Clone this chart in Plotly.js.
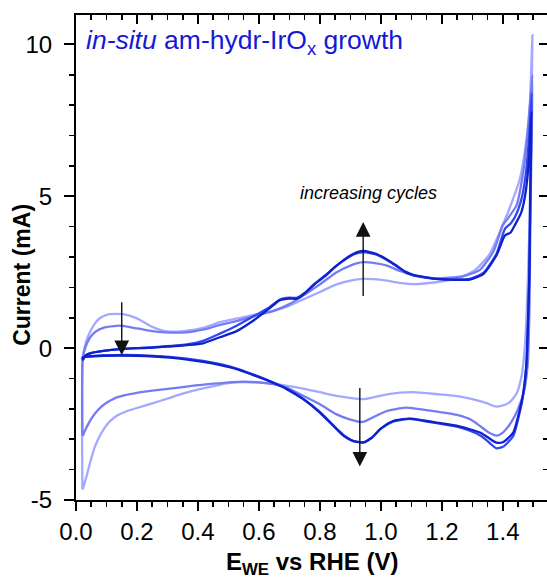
<!DOCTYPE html>
<html>
<head>
<meta charset="utf-8">
<script src="https://cdn.plot.ly/plotly-3.0.1.min.js"></script>
<style>
  html, body { margin: 0; padding: 0; background: #ffffff; }
  #cv { width: 547px; height: 577px; }
</style>
</head>
<body>
<div id="cv"></div>
<script>
// Cyclic voltammograms recorded during in-situ growth of amorphous hydrous IrOx.
// Each cycle: cathodic end -> anodic sweep up to 1.5 V -> cathodic sweep back.
// Potential in V vs RHE, current in mA.

// cycle 1 (earliest)
const cycle1E = [0.021, 0.022, 0.03, 0.04, 0.051, 0.065, 0.08, 0.11, 0.155, 0.2, 0.25, 0.3, 0.36, 0.42, 0.47, 0.53, 0.58, 0.64, 0.7, 0.745, 0.8, 0.855, 0.9, 0.942, 0.98, 1.02, 1.06, 1.11, 1.18, 1.26, 1.31, 1.357, 1.39, 1.42, 1.456, 1.475, 1.489, 1.497,
  1.494, 1.49, 1.486, 1.48, 1.472, 1.462, 1.445, 1.42, 1.395, 1.375, 1.35, 1.30, 1.25, 1.19, 1.10, 1.02, 0.94, 0.86, 0.80, 0.745, 0.64, 0.55, 0.50, 0.42, 0.35, 0.30, 0.25, 0.2, 0.17, 0.135, 0.11, 0.09, 0.075, 0.06, 0.046, 0.035, 0.022];
const cycle1I = [-4.65, -0.36, 0.1, 0.4, 0.63, 0.85, 1.0, 1.12, 1.12, 0.98, 0.7, 0.55, 0.57, 0.68, 0.85, 0.98, 1.09, 1.2, 1.4, 1.6, 1.85, 2.1, 2.22, 2.28, 2.27, 2.22, 2.15, 2.11, 2.17, 2.33, 2.58, 3.1, 3.82, 4.55, 5.58, 6.68, 8.11, 10.31,
  8.0, 5.5, 3.5, 1.6, 0.0, -0.9, -1.5, -1.8, -1.9, -1.92, -1.82, -1.68, -1.58, -1.52, -1.45, -1.52, -1.68, -1.58, -1.45, -1.33, -1.17, -1.12, -1.15, -1.32, -1.5, -1.66, -1.82, -1.97, -2.06, -2.22, -2.42, -2.68, -2.95, -3.3, -3.78, -4.2, -4.65];

// cycle 2
const cycle2E = [0.021, 0.022, 0.03, 0.046, 0.065, 0.09, 0.144, 0.2, 0.25, 0.29, 0.36, 0.42, 0.47, 0.53, 0.58, 0.64, 0.7, 0.745, 0.8, 0.855, 0.9, 0.942, 0.98, 1.02, 1.06, 1.1, 1.18, 1.27, 1.325, 1.37, 1.40, 1.415, 1.445, 1.467, 1.483, 1.497,
  1.494, 1.49, 1.488, 1.482, 1.47, 1.45, 1.43, 1.40, 1.38, 1.35, 1.30, 1.25, 1.19, 1.12, 1.08, 1.02, 0.98, 0.94, 0.9, 0.855, 0.8, 0.745, 0.69, 0.636, 0.55, 0.45, 0.35, 0.25, 0.2, 0.16, 0.125, 0.1, 0.08, 0.065, 0.05, 0.04, 0.03, 0.022];
const cycle2I = [-2.89, -0.36, 0.0, 0.35, 0.55, 0.67, 0.74, 0.65, 0.56, 0.52, 0.52, 0.62, 0.76, 0.9, 1.05, 1.2, 1.45, 1.73, 2.1, 2.5, 2.72, 2.83, 2.8, 2.72, 2.55, 2.42, 2.3, 2.37, 2.58, 3.2, 4.05, 4.25, 4.7, 5.8, 7.23, 8.99,
  6.5, 4.0, 1.6, -0.5, -1.4, -2.0, -2.4, -2.78, -2.88, -2.75, -2.38, -2.2, -2.1, -2.0, -1.96, -2.07, -2.25, -2.43, -2.35, -2.18, -1.85, -1.57, -1.3, -1.17, -1.1, -1.17, -1.28, -1.4, -1.47, -1.55, -1.66, -1.8, -1.96, -2.12, -2.33, -2.5, -2.7, -2.89];

// cycle 3
const cycle3E = [0.022, 0.023, 0.03, 0.046, 0.09, 0.144, 0.253, 0.363, 0.417, 0.472, 0.527, 0.581, 0.636, 0.669, 0.70, 0.724, 0.75, 0.778, 0.82, 0.855, 0.909, 0.942, 0.986, 1.02, 1.051, 1.08, 1.106, 1.183, 1.292, 1.336, 1.379, 1.407, 1.425, 1.439, 1.461, 1.475, 1.486, 1.495,
  1.491, 1.488, 1.484, 1.478, 1.466, 1.457, 1.434, 1.40, 1.379, 1.36, 1.33, 1.292, 1.248, 1.183, 1.14, 1.095, 1.04, 1.0, 0.97, 0.942, 0.909, 0.88, 0.855, 0.8, 0.745, 0.691, 0.636, 0.58, 0.527, 0.47, 0.417, 0.308, 0.2, 0.09, 0.04, 0.022];
const cycle3I = [-0.3, -0.38, -0.25, -0.17, -0.09, -0.03, 0.03, 0.12, 0.24, 0.48, 0.74, 1.04, 1.36, 1.6, 1.66, 1.66, 1.82, 2.08, 2.42, 2.72, 3.08, 3.16, 3.08, 2.9, 2.7, 2.5, 2.4, 2.28, 2.28, 2.48, 3.1, 3.93, 4.1, 4.3, 4.9, 5.7, 6.9, 8.4,
  5.5, 2.8, 1.2, -0.5, -1.6, -2.05, -2.9, -3.25, -3.3, -3.15, -2.9, -2.72, -2.58, -2.47, -2.4, -2.33, -2.42, -2.65, -2.95, -3.1, -3.05, -2.88, -2.65, -2.1, -1.66, -1.32, -1.08, -0.86, -0.67, -0.52, -0.42, -0.29, -0.23, -0.24, -0.27, -0.3];

// cycle 4 (latest)
const cycle4E = [0.022, 0.023, 0.03, 0.046, 0.09, 0.144, 0.253, 0.363, 0.417, 0.472, 0.527, 0.581, 0.636, 0.669, 0.70, 0.724, 0.75, 0.778, 0.82, 0.855, 0.909, 0.942, 0.986, 1.02, 1.051, 1.08, 1.106, 1.183, 1.292, 1.336, 1.379, 1.407, 1.425, 1.439, 1.461, 1.475, 1.486, 1.494,
  1.49, 1.487, 1.483, 1.477, 1.465, 1.456, 1.434, 1.40, 1.379, 1.36, 1.33, 1.292, 1.248, 1.183, 1.14, 1.095, 1.04, 1.0, 0.97, 0.942, 0.909, 0.88, 0.855, 0.8, 0.745, 0.691, 0.636, 0.58, 0.527, 0.47, 0.417, 0.308, 0.2, 0.09, 0.04, 0.022];
const cycle4I = [-0.32, -0.38, -0.25, -0.17, -0.09, -0.03, 0.02, 0.1, 0.16, 0.36, 0.56, 0.9, 1.32, 1.58, 1.63, 1.63, 1.8, 2.06, 2.4, 2.72, 3.1, 3.2, 3.1, 2.92, 2.72, 2.52, 2.41, 2.28, 2.26, 2.44, 3.05, 3.71, 3.8, 4.04, 4.48, 5.14, 6.24, 7.78,
  5.0, 2.5, 1.0, -0.58, -1.6, -2.01, -2.78, -3.1, -3.11, -3.0, -2.8, -2.67, -2.55, -2.45, -2.38, -2.32, -2.4, -2.65, -2.95, -3.11, -3.06, -2.9, -2.67, -2.12, -1.68, -1.35, -1.1, -0.88, -0.69, -0.55, -0.45, -0.31, -0.25, -0.25, -0.28, -0.32];

const cycleColors = ['#a2a9ff', '#757cf2', '#3347f0', '#0d21cc'];

// axis tick labels
const xTickVals = [0.0, 0.2, 0.4, 0.6, 0.8, 1.0, 1.2, 1.4];
const xTickText = ['0.0', '0.2', '0.4', '0.6', '0.8', '1.0', '1.2', '1.4'];
const yTickVals = [-5, 0, 5, 10];
const yTickText = ['-5', '0', '5', '10'];

const FONT = 'Liberation Sans, Arial, Helvetica, sans-serif';
const xRange = [0, 1.545];
const yRange = [-5, 10.97];

const cycles = [[cycle1E, cycle1I], [cycle2E, cycle2I], [cycle3E, cycle3I], [cycle4E, cycle4I]];
const traces = cycles.map(([E, I], k) => ({
  x: E, y: I, type: 'scatter', mode: 'lines',
  line: { color: cycleColors[k], width: 2.3, shape: 'spline', smoothing: 0.6 },
  hoverinfo: 'skip'
}));
// carrier for the mirrored top/right axes
traces.push({ x: [null], y: [null], xaxis: 'x2', yaxis: 'y2', type: 'scatter', mode: 'lines', hoverinfo: 'skip' });

const baseX = {
  range: xRange, showgrid: false, zeroline: false,
  showline: true, linecolor: '#000', linewidth: 2
};
const baseY = {
  range: yRange, showgrid: false, zeroline: false,
  showline: true, linecolor: '#000', linewidth: 2
};

function arrow(x, y, ax, ay) {
  return {
    x: x, y: y, ax: ax, ay: ay, xref: 'x', yref: 'y', axref: 'x', ayref: 'y',
    text: '', showarrow: true, arrowhead: 2, arrowsize: 2.1, arrowwidth: 1.4,
    arrowcolor: '#111', standoff: 0, startstandoff: 0
  };
}

const layout = {
  width: 547, height: 577,
  margin: { l: 76, r: 0, t: 15, b: 77 },
  paper_bgcolor: '#fff', plot_bgcolor: '#fff',
  showlegend: false,
  font: { family: FONT, color: '#000' },
  xaxis: Object.assign({}, baseX, {
    tickmode: 'array', tickvals: xTickVals, ticktext: xTickText,
    ticks: 'outside', ticklen: 9, tickwidth: 2, tickcolor: '#000',
    tickfont: { family: FONT, size: 24, color: '#000' },
    minor: { dtick: 0.05, tick0: 0, ticks: 'outside', ticklen: 5, tickwidth: 1.6, tickcolor: '#000' }
  }),
  yaxis: Object.assign({}, baseY, {
    tickmode: 'array', tickvals: yTickVals, ticktext: yTickText,
    ticks: 'outside', ticklen: 10, tickwidth: 2, tickcolor: '#000',
    tickfont: { family: FONT, size: 24, color: '#000' },
    ticklabelstandoff: 7,
    minor: { dtick: 1, tick0: 0, ticks: 'outside', ticklen: 5, tickwidth: 1.6, tickcolor: '#000' }
  }),
  xaxis2: Object.assign({}, baseX, {
    overlaying: 'x', side: 'top', anchor: 'y2', showticklabels: false,
    tickmode: 'array', tickvals: xTickVals,
    ticks: 'inside', ticklen: 9, tickwidth: 2, tickcolor: '#000',
    minor: { dtick: 0.05, tick0: 0, ticks: 'inside', ticklen: 5, tickwidth: 1.6, tickcolor: '#000' }
  }),
  yaxis2: Object.assign({}, baseY, {
    overlaying: 'y', side: 'right', anchor: 'x2', showticklabels: false, showline: false,
    tickmode: 'array', tickvals: yTickVals,
    ticks: 'inside', ticklen: 8, tickwidth: 2, tickcolor: '#000',
    minor: { dtick: 1, tick0: 0, ticks: 'inside', ticklen: 4, tickwidth: 1.6, tickcolor: '#000' }
  }),
  annotations: [
    {
      text: '<i>in-situ</i> am-hydr-IrO<sub>x</sub> growth',
      xref: 'paper', yref: 'paper', x: 0.016, y: 0.944, xanchor: 'left', yanchor: 'middle',
      showarrow: false, font: { family: FONT, size: 26.5, color: '#1418d6' }
    },
    {
      text: '<i>increasing cycles</i>',
      xref: 'x', yref: 'y', x: 0.96, y: 5.1, xanchor: 'center', yanchor: 'middle',
      showarrow: false, font: { family: FONT, size: 18, color: '#000' }
    },
    {
      text: '<b>Current (mA)</b>', textangle: -90,
      xref: 'paper', yref: 'paper', x: -0.115, y: 0.464, xanchor: 'center', yanchor: 'middle',
      showarrow: false, font: { family: FONT, size: 23, color: '#000' }
    },
    {
      text: '<b>E<sub>WE</sub> vs RHE (V)</b>',
      xref: 'paper', yref: 'paper', x: 0.5, y: -0.095, xanchor: 'center', yanchor: 'top',
      showarrow: false, font: { family: FONT, size: 24, color: '#000' }
    },
    arrow(0.15, -0.23, 0.15, 1.56),
    arrow(0.942, 4.15, 0.942, 1.67),
    arrow(0.931, -3.9, 0.931, -1.26)
  ]
};

Plotly.newPlot('cv', traces, layout, { staticPlot: true, displayModeBar: false });
</script>
</body>
</html>
